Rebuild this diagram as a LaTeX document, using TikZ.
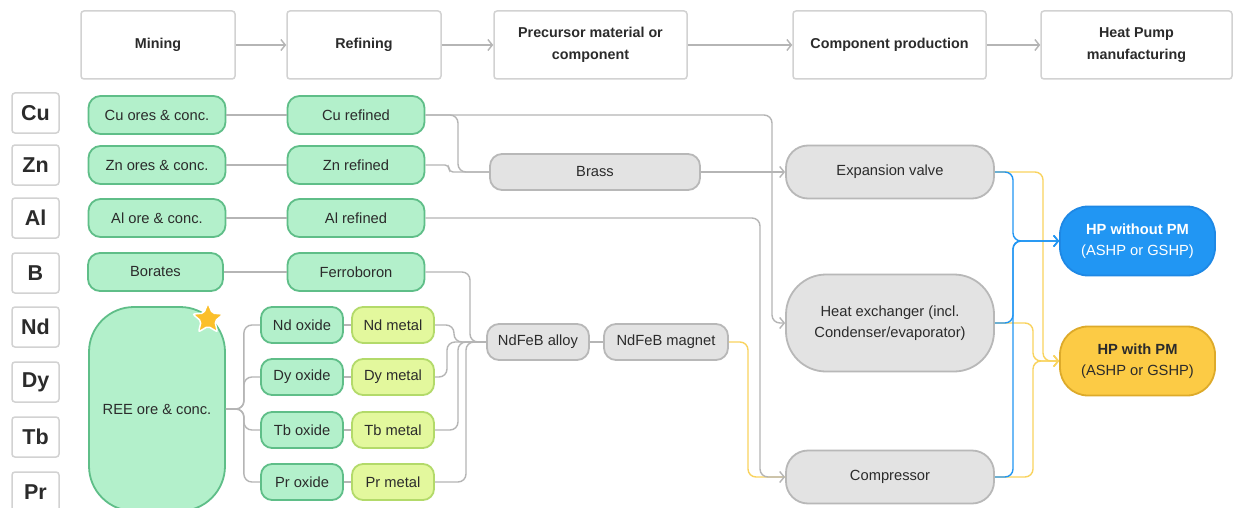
\documentclass[tikz,border=0pt]{standalone}
\usepackage{fontspec}
\setmainfont{Liberation Sans}
\usetikzlibrary{arrows.meta,shapes.geometric}

\definecolor{txt}{HTML}{2B2B2B}
\definecolor{hdrline}{HTML}{D2D2D2}
\definecolor{greenfill}{HTML}{B3F0CB}
\definecolor{greenline}{HTML}{5FBE88}
\definecolor{metalfill}{HTML}{E3F89D}
\definecolor{metalline}{HTML}{B3DA6A}
\definecolor{greyfill}{HTML}{E3E3E3}
\definecolor{greyline}{HTML}{B8B8B8}
\definecolor{lgray}{HTML}{B5B5B5}
\definecolor{bluefill}{HTML}{2196F3}
\definecolor{blueline}{HTML}{1E88E5}
\definecolor{yelfill}{HTML}{FCCB45}
\definecolor{yelline}{HTML}{DDAA2A}
\definecolor{yelwire}{HTML}{F9D35E}
\definecolor{starfill}{HTML}{FBBF2A}

\newcommand{\nodefont}{\fontsize{14.7}{21.5}\selectfont}
\newcommand{\hdrfont}{\fontsize{14.3}{21.5}\selectfont}

\tikzset{
  hdr/.style={draw=hdrline, fill=white, line width=1.5pt, rounded corners=3pt,
    minimum height=68pt, align=center, inner sep=0pt, text=txt,
    font=\bfseries\hdrfont},
  elem/.style={draw=hdrline, fill=white, line width=1.5pt, rounded corners=3pt,
    minimum width=47pt, minimum height=40pt, inner sep=0pt, text=txt,
    font=\bfseries\fontsize{21.5}{24}\selectfont},
  ore/.style={draw=greenline, fill=greenfill, line width=1.8pt, rounded corners=12pt,
    minimum width=137pt, minimum height=38pt, inner sep=0pt, text=txt, font=\nodefont},
  oxide/.style={draw=greenline, fill=greenfill, line width=1.8pt, rounded corners=11pt,
    minimum width=82pt, minimum height=36pt, inner sep=0pt, text=txt, font=\nodefont},
  metal/.style={draw=metalline, fill=metalfill, line width=1.8pt, rounded corners=11pt,
    minimum width=82pt, minimum height=36pt, inner sep=0pt, text=txt, font=\nodefont},
  grey/.style={draw=greyline, fill=greyfill, line width=1.8pt, rounded corners=12pt,
    minimum height=36pt, inner sep=0pt, text=txt, font=\nodefont, align=center},
  comp/.style={grey, minimum width=208pt, rounded corners=22pt},
  hp/.style={line width=1.8pt, rounded corners=28pt, minimum width=155pt,
    minimum height=69pt, inner sep=0pt, align=center, font=\nodefont},
  link/.style={draw=lgray, line width=1.4pt, rounded corners=8pt},
  bluelink/.style={draw=bluefill, line width=1.4pt, rounded corners=8pt},
  yellink/.style={draw=yelwire, line width=1.4pt, rounded corners=8pt},
  arr/.style={-{Straight Barb[length=4.5pt,width=11pt]}},
}

\begin{document}
\begin{tikzpicture}[x=1pt,y=-1pt]
\path[use as bounding box] (0,0) rectangle (1233,508);
\clip (0,0) rectangle (1233,508);
\fill[white] (0,0) rectangle (1233,508);

% stage headers
\node[hdr, minimum width=154pt] (hMine) at (158,45) {Mining};
\node[hdr, minimum width=154pt] (hRef) at (364,45) {Refining};
\node[hdr, minimum width=193pt] (hPre) at (590.5,45) {Precursor material or\\component};
\node[hdr, minimum width=193pt] (hComp) at (889.5,45) {Component production};
\node[hdr, minimum width=191pt] (hHP) at (1136.5,45) {Heat Pump\\manufacturing};
\foreach \a/\b in {hMine/hRef, hRef/hPre, hPre/hComp, hComp/hHP}
  \draw[link, arr] (\a.east) -- (\b.west);

% element labels
\node[elem] (eCu) at (35.5,113) {Cu};
\node[elem] (eZn) at (35.5,165) {Zn};
\node[elem] (eAl) at (35.5,218) {Al};
\node[elem] (eB)  at (35.5,273) {B};
\node[elem] (eNd) at (35.5,327) {Nd};
\node[elem] (eDy) at (35.5,382) {Dy};
\node[elem] (eTb) at (35.5,437) {Tb};
\node[elem] (ePr) at (35.5,492) {Pr};

% mining
\node[ore] (cuOre) at (157,115) {Cu ores \& conc.};
\node[ore] (znOre) at (157,165) {Zn ores \& conc.};
\node[ore] (alOre) at (157,218) {Al ore \& conc.};
\node[ore, minimum width=135pt] (borates) at (155.5,272) {Borates};
\node[ore, minimum width=136pt, minimum height=204pt, rounded corners=45pt] (ree) at (157,409) {REE ore \& conc.};
\node[star, star points=5, star point ratio=2.2, fill=starfill, draw=white,
  line width=1.5pt, rounded corners=2pt, minimum size=32pt, inner sep=0pt] (star) at (208,319) {};

% refining
\node[ore] (cuRef) at (356,115) {Cu refined};
\node[ore] (znRef) at (356,165) {Zn refined};
\node[ore] (alRef) at (356,218) {Al refined};
\node[ore] (fb) at (356,272) {Ferroboron};
\node[oxide] (ndOx) at (302,325) {Nd oxide};
\node[oxide] (dyOx) at (302,377) {Dy oxide};
\node[oxide] (tbOx) at (302,430) {Tb oxide};
\node[oxide] (prOx) at (302,482) {Pr oxide};
\node[metal] (ndM) at (393,325) {Nd metal};
\node[metal] (dyM) at (393,377) {Dy metal};
\node[metal] (tbM) at (393,430) {Tb metal};
\node[metal] (prM) at (393,482) {Pr metal};

% precursors
\node[grey, minimum width=210pt] (brass) at (595,172) {Brass};
\node[grey, minimum width=102pt] (alloy) at (538,342) {NdFeB alloy};
\node[grey, minimum width=124pt] (magnet) at (666,342) {NdFeB magnet};

% components
\node[comp, minimum height=53pt] (ev) at (890,172) {Expansion valve};
\node[comp, minimum height=97pt, rounded corners=40pt] (hx) at (890,323) {Heat exchanger (incl.\\Condenser/evaporator)};
\node[comp, minimum height=53pt] (cmp) at (890,477) {Compressor};

% heat pumps
\node[hp, draw=blueline, fill=bluefill, text=white] (hpA) at (1137.5,241) {\textbf{HP without PM}\\(ASHP or GSHP)};
\node[hp, draw=yelline, fill=yelfill, text=txt] (hpB) at (1137.5,361) {\textbf{HP with PM}\\(ASHP or GSHP)};

% mining to refining
\draw[link] (cuOre.east) -- (cuRef.west);
\draw[link] (znOre.east) -- (znRef.west);
\draw[link] (alOre.east) -- (alRef.west);
\draw[link] (borates.east) -- (fb.west);

% rare earth branches
\draw[link] (ree.east) -- ++(18,0) |- (ndOx.west);
\draw[link] (ree.east) -- ++(18,0) |- (dyOx.west);
\draw[link] (ree.east) -- ++(18,0) |- (tbOx.west);
\draw[link] (ree.east) -- ++(18,0) |- (prOx.west);
\foreach \o/\m in {ndOx/ndM, dyOx/dyM, tbOx/tbM, prOx/prM}
  \draw[link] (\o.east) -- (\m.west);

% into the alloy
\draw[link] (fb.east) -- (470,272) |- (alloy.west);
\draw[link] (ndM.east) -- (454,325) |- (alloy.west);
\draw[link] (dyM.east) -- (447,377) |- (alloy.west);
\draw[link] (tbM.east) -- (458,430) |- (alloy.west);
\draw[link] (prM.east) -- (466,482) |- (alloy.west);
\draw[link] (alloy.east) -- (magnet.west);

% brass
\draw[link] (cuRef.east) -- (458,115) |- (brass.west);
\draw[link, rounded corners=4pt] (znRef.east) -- (449,165) |- (brass.west);
\draw[link, arr] (brass.east) -- (ev.west);

% metals to components
\draw[yellink] (magnet.east) -- (748,342) |- (cmp.west);
\draw[link, arr] (cuRef.east) -- (772,115) |- (hx.west);
\draw[link, arr] (alRef.east) -- (760,218) |- (cmp.west);

% components to heat pumps
\draw[yellink, arr] (ev.east) -- (1043,172) |- (hpB.west);
\draw[yellink, arr] (hx.east) -- (1033,323) |- (hpB.west);
\draw[yellink, arr] (cmp.east) -- (1033,477) |- (hpB.west);
\draw[bluelink, arr] (ev.east) -- (1013,172) |- (hpA.west);
\draw[bluelink, arr] (hx.east) -- (1013,323) |- (hpA.west);
\draw[bluelink, arr] (cmp.east) -- (1013,477) |- (hpA.west);
\end{tikzpicture}
\end{document}
